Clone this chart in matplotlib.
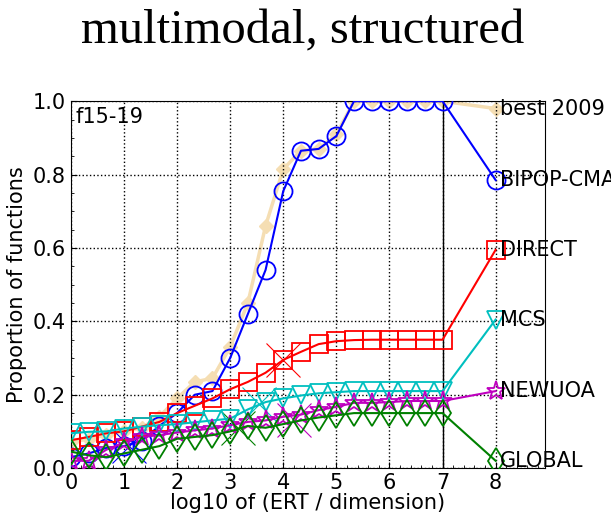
import numpy as np
import matplotlib
matplotlib.use('Agg')
import matplotlib.pyplot as plt
from matplotlib.ticker import MultipleLocator

# log10 of (ERT / dimension), marker positions every 1/3 decade
x_steps = [0, 1/3, 2/3, 1, 4/3, 5/3, 2, 7/3, 8/3, 3, 10/3, 11/3, 4, 13/3, 14/3,
           5, 16/3, 17/3, 6, 19/3, 20/3, 7]

best2009 = [0.07, 0.08, 0.09, 0.10, 0.11, 0.14, 0.19, 0.235, 0.245, 0.33, 0.45, 0.66,
            0.815, 0.865, 0.87, 0.91, 1.0, 1.0, 1.0, 1.0, 1.0, 1.0]
bipop = [0.03, 0.04, 0.055, 0.06, 0.075, 0.115, 0.15, 0.20, 0.21, 0.30, 0.42, 0.54,
         0.755, 0.865, 0.87, 0.905, 1.0, 1.0, 1.0, 1.0, 1.0, 1.0]
direct = [0.076, 0.085, 0.095, 0.10, 0.113, 0.126, 0.15, 0.17, 0.19, 0.215, 0.235, 0.26,
          0.295, 0.317, 0.338, 0.346, 0.349, 0.35, 0.35, 0.35, 0.35, 0.35]
mcs = [0.095, 0.099, 0.10, 0.108, 0.113, 0.117, 0.12, 0.125, 0.13, 0.135, 0.16, 0.18,
       0.19, 0.198, 0.204, 0.207, 0.21, 0.21, 0.21, 0.21, 0.21, 0.21]
newuoa = [0.02, 0.02, 0.05, 0.07, 0.085, 0.09, 0.097, 0.103, 0.108, 0.117, 0.126, 0.13,
          0.14, 0.146, 0.158, 0.167, 0.178, 0.178, 0.18, 0.183, 0.183, 0.183]
globl = [0.045, 0.035, 0.03, 0.04, 0.05, 0.06, 0.08, 0.085, 0.09, 0.10, 0.115, 0.11,
         0.12, 0.13, 0.138, 0.144, 0.15, 0.15, 0.15, 0.15, 0.15, 0.15]

x_final = 8
final_vals = {'best 2009': 0.98, 'BIPOP-CMA': 0.785, 'DIRECT': 0.595,
              'MCS': 0.405, 'NEWUOA': 0.21, 'GLOBAL': 0.02}

# median of max evaluations per algorithm
cross_x = {'BIPOP-CMA': 1.1, 'DIRECT': 4.0, 'MCS': 3.55, 'NEWUOA': 4.2, 'GLOBAL': 3.15}
cross_y = {'BIPOP-CMA': 0.06, 'DIRECT': 0.295, 'MCS': 0.175, 'NEWUOA': 0.13, 'GLOBAL': 0.11}

fig = plt.figure(figsize=(6.11, 5.19), dpi=100)
ax = fig.add_axes([0.116, 0.098, 0.776, 0.707])

wheat = '#f5deb3'
series = [
    ('BIPOP-CMA', bipop, 'b', 'o'),
    ('DIRECT', direct, 'r', 's'),
    ('MCS', mcs, 'c', 'v'),
    ('NEWUOA', newuoa, 'm', '*'),
    ('GLOBAL', globl, 'g', 'd'),
]

ax.plot(x_steps + [x_final], best2009 + [final_vals['best 2009']], color=wheat,
        lw=2.5, marker='D', ms=7, mfc=wheat, mec=wheat, zorder=1)

for name, vals, col, mk in series:
    ax.plot(x_steps + [x_final], vals + [final_vals[name]], color=col, lw=1.5,
            marker=mk, ms=13 if mk != '*' else 14, mfc='none', mec=col, mew=1.3,
            zorder=3)
    ax.plot(cross_x[name], cross_y[name], marker='x', ms=24, mew=0.8,
            color=col, ls='none', zorder=2)

for name, v in final_vals.items():
    ax.text(x_final + 0.08, v, name, fontsize=15, va='center', ha='left',
            clip_on=False)

ax.axvline(7, color='k', lw=1)
ax.text(0.08, 0.985, 'f15-19', fontsize=15, va='top', ha='left')

ax.set_xlim(0, 8.93)
ax.set_ylim(0, 1.0)
ax.set_xticks(range(0, 9))
ax.set_yticks([0.0, 0.2, 0.4, 0.6, 0.8, 1.0])
ax.set_yticklabels(['0.0', '0.2', '0.4', '0.6', '0.8', '1.0'])
ax.xaxis.set_minor_locator(MultipleLocator(0.2))
ax.yaxis.set_minor_locator(MultipleLocator(0.05))
ax.tick_params(which='both', direction='in', top=False, right=False, labelsize=15)
ax.tick_params(which='major', length=4)
ax.tick_params(which='minor', length=2)
ax.grid(True, which='major', ls=':', color='k', lw=1)
ax.set_xlabel('log10 of (ERT / dimension)', fontsize=15, labelpad=0)
ax.set_ylabel('Proportion of functions', fontsize=15)

fig.text(0.495, 0.94, 'multimodal, structured', fontsize=35, ha='center',
         va='center', family='Liberation Serif')

fig.savefig('out.png', dpi=100)
